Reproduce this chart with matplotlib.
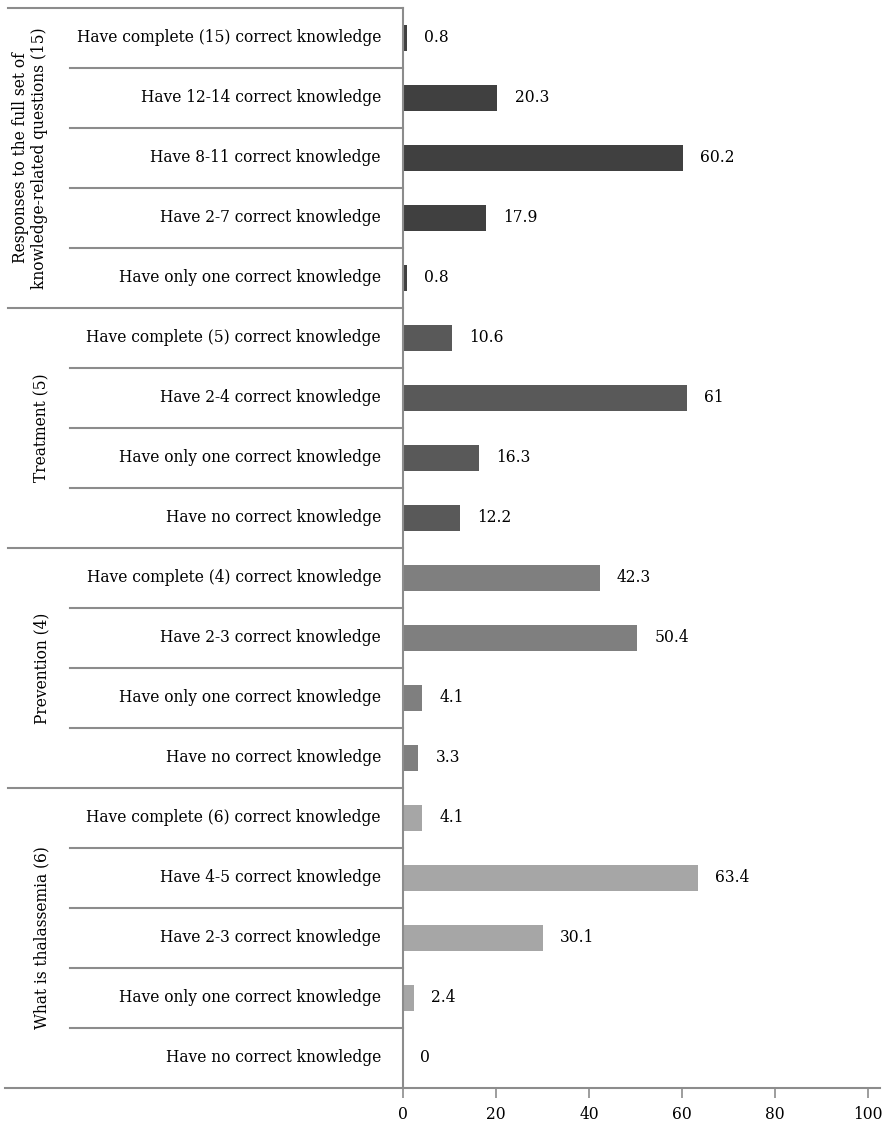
import matplotlib.pyplot as plt
import matplotlib.transforms as mtransforms

# data, listed top to bottom
groups = ["Responses to the full set of\nknowledge-related questions (15)",
          "Treatment (5)", "Prevention (4)", "What is thalassemia (6)"]
group_items = [
    ["Have complete (15) correct knowledge", "Have 12-14 correct knowledge",
     "Have 8-11 correct knowledge", "Have 2-7 correct knowledge",
     "Have only one correct knowledge"],
    ["Have complete (5) correct knowledge", "Have 2-4 correct knowledge",
     "Have only one correct knowledge", "Have no correct knowledge"],
    ["Have complete (4) correct knowledge", "Have 2-3 correct knowledge",
     "Have only one correct knowledge", "Have no correct knowledge"],
    ["Have complete (6) correct knowledge", "Have 4-5 correct knowledge",
     "Have 2-3 correct knowledge", "Have only one correct knowledge",
     "Have no correct knowledge"],
]
group_values = [
    [0.8, 20.3, 60.2, 17.9, 0.8],
    [10.6, 61, 16.3, 12.2],
    [42.3, 50.4, 4.1, 3.3],
    [4.1, 63.4, 30.1, 2.4, 0],
]
group_colors = ["#404040", "#595959", "#7f7f7f", "#a6a6a6"]
xticks = [0, 20, 40, 60, 80, 100]

plt.rcParams['font.family'] = ['DejaVu Serif']
FS = 11.2
LINE = "#8c8c8c"

W, H = 887, 1124
fig = plt.figure(figsize=(W / 100, H / 100), dpi=100)
ax = fig.add_axes([403 / W, 1 - 1088 / H, (868 - 403) / W, (1088 - 8) / H])

labels, values, colors = [], [], []
for items, vals, c in zip(group_items, group_values, group_colors):
    labels += items
    values += vals
    colors += [c] * len(items)
n = len(labels)
ypos = list(range(n))

ax.barh(ypos, values, height=0.42, color=colors)
for y, v in zip(ypos, values):
    ax.text(v + 3.7, y, f"{v:g}", va="center", ha="left", fontsize=FS)

ax.set_xlim(0, 100)
ax.set_ylim(n - 0.5, -0.5)
ax.set_yticks([])
ax.set_xticks(xticks)
ax.tick_params(axis="x", direction="out", length=7, width=1.2, color=LINE,
               labelsize=FS, pad=6)
for s in ["top", "right", "bottom"]:
    ax.spines[s].set_visible(False)
ax.spines["left"].set_color(LINE)
ax.spines["left"].set_linewidth(1.5)

tr = mtransforms.blended_transform_factory(fig.transFigure, ax.transData)

# category labels
for y, lab in zip(ypos, labels):
    ax.text(381 / W, y, lab, transform=tr, ha="right", va="center", fontsize=FS)

# separator lines and group labels
start = 0
ax.plot([8 / W, 403 / W], [-0.5, -0.5], transform=tr, color=LINE, lw=1.5,
        clip_on=False)
for gi, (g, items) in enumerate(zip(groups, group_items)):
    end = start + len(items)
    for k in range(start + 1, end):
        ax.plot([70 / W, 403 / W], [k - 0.5, k - 0.5], transform=tr,
                color=LINE, lw=1.5, clip_on=False)
    if gi < len(groups) - 1:
        ax.plot([8 / W, 403 / W], [end - 0.5, end - 0.5], transform=tr,
                color=LINE, lw=1.5, clip_on=False)
    gx = 30 if "\n" in g else 42
    ax.text(gx / W, (start + end - 1) / 2, g, transform=tr, rotation=90,
            ha="center", va="center", fontsize=FS, linespacing=1.15)
    start = end

# bottom axis line spanning the whole width
ax.plot([5 / W, 880 / W], [n - 0.5, n - 0.5], transform=tr, color=LINE,
        lw=1.5, clip_on=False)

fig.savefig("out.png", dpi=100)
